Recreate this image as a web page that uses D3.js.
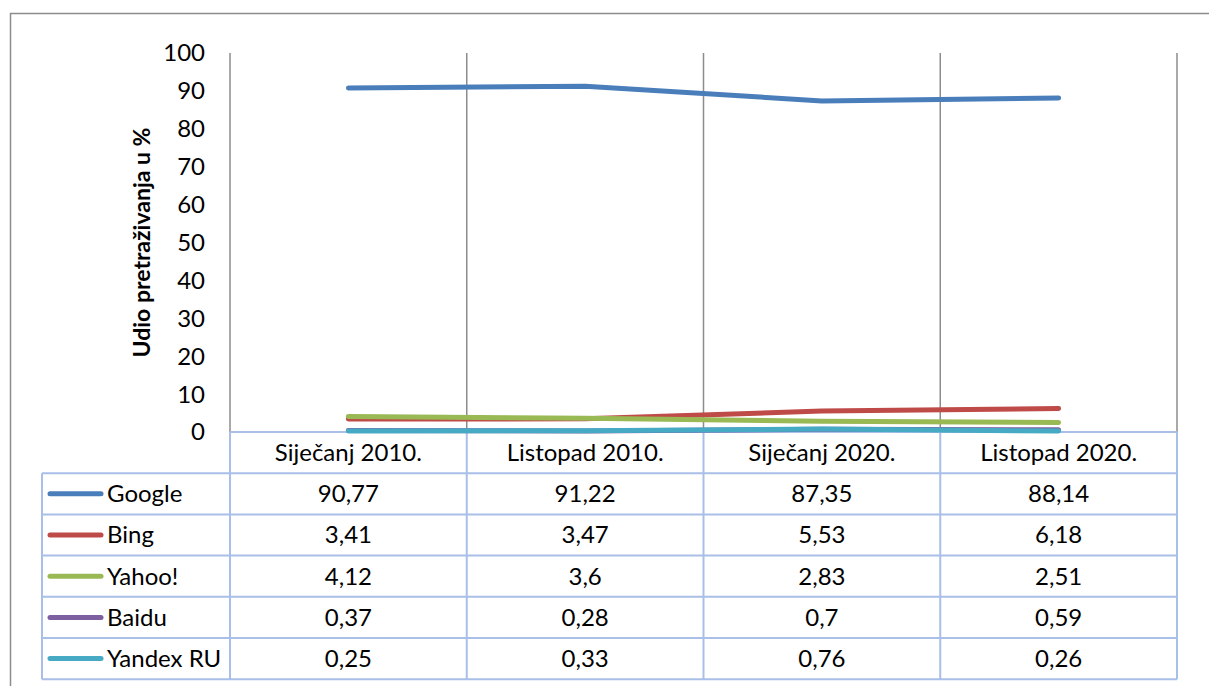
<!DOCTYPE html>
<html>
<head>
<meta charset="utf-8">
<script src="https://cdn.jsdelivr.net/npm/d3@7"></script>
<style>
  body { margin: 0; background: #fff; }
  text { font-family: Lato, "Open Sans", sans-serif; fill: #000; }
</style>
</head>
<body>
<div id="chart"></div>
<script>
var categories = ["Siječanj 2010.", "Listopad 2010.", "Siječanj 2020.", "Listopad 2020."];
var seriesNames = ["Google", "Bing", "Yahoo!", "Baidu", "Yandex RU"];
var google = [90.77, 91.22, 87.35, 88.14];
var bing = [3.41, 3.47, 5.53, 6.18];
var yahoo = [4.12, 3.6, 2.83, 2.51];
var baidu = [0.37, 0.28, 0.7, 0.59];
var yandex = [0.25, 0.33, 0.76, 0.26];
var colors = ["#4a7ebb", "#be4b48", "#98b954", "#7d60a0", "#46aac5"];
var yTicks = [0, 10, 20, 30, 40, 50, 60, 70, 80, 90, 100];
var yTitle = "Udio pretraživanja u %";

var series = [google, bing, yahoo, baidu, yandex];

var W = 1209, H = 686;
var plot = { left: 230, right: 1177, top: 53, bottom: 432 };
var tableLeft = 42, rowH = 41.2;
var fs = "24px";

var svg = d3.select("#chart").append("svg")
    .attr("width", W)
    .attr("height", H);

// outer chart border
svg.append("rect")
    .attr("x", 10.5).attr("y", 13.5)
    .attr("width", W + 10).attr("height", H + 10)
    .attr("fill", "none")
    .attr("stroke", "#8c8c8c")
    .attr("stroke-width", 1.5);

var x = d3.scaleBand()
    .domain(categories)
    .range([plot.left, plot.right]);

var y = d3.scaleLinear()
    .domain([0, 100])
    .range([plot.bottom, plot.top]);

// vertical gridlines at category boundaries
var bounds = categories.map(function (d) { return x(d); }).concat([plot.right]);
svg.selectAll(".grid")
    .data(bounds)
    .enter().append("line")
    .attr("class", "grid")
    .attr("x1", function (d) { return d; })
    .attr("x2", function (d) { return d; })
    .attr("y1", plot.top)
    .attr("y2", plot.bottom)
    .attr("stroke", "#8c8c8c")
    .attr("stroke-width", 1.5);

// y axis tick labels
svg.selectAll(".ytick")
    .data(yTicks)
    .enter().append("text")
    .attr("class", "ytick")
    .attr("x", 205)
    .attr("y", function (d) { return y(d); })
    .attr("dy", "0.35em")
    .attr("text-anchor", "end")
    .style("font-size", fs)
    .text(function (d) { return d; });

// y title
svg.append("text")
    .attr("transform", "translate(150," + ((plot.top + plot.bottom) / 2) + ") rotate(-90)")
    .attr("text-anchor", "middle")
    .style("font-size", "23px")
    .style("font-weight", "bold")
    .text(yTitle);

// data table
var tableColor = "#a9bfe8";
var fmt = function (v) { return String(v).replace(".", ","); };
var tableTop = plot.bottom;
var rows = series.length;
var tableBottom = tableTop + rowH * (rows + 1);

var tg = svg.append("g").attr("class", "table");

tg.append("line")
    .attr("x1", plot.left).attr("x2", plot.right)
    .attr("y1", tableTop).attr("y2", tableTop)
    .attr("stroke", tableColor).attr("stroke-width", 2);

// horizontal row lines
d3.range(rows + 1).forEach(function (r) {
    var yy = tableTop + rowH * (r + 1);
    tg.append("line")
        .attr("x1", tableLeft).attr("x2", plot.right)
        .attr("y1", yy).attr("y2", yy)
        .attr("stroke", tableColor).attr("stroke-width", 2);
});

// vertical lines
bounds.forEach(function (bx) {
    tg.append("line")
        .attr("x1", bx).attr("x2", bx)
        .attr("y1", tableTop).attr("y2", tableBottom)
        .attr("stroke", tableColor).attr("stroke-width", 2);
});
tg.append("line")
    .attr("x1", tableLeft).attr("x2", tableLeft)
    .attr("y1", tableTop + rowH).attr("y2", tableBottom)
    .attr("stroke", tableColor).attr("stroke-width", 2);

// header labels
tg.selectAll(".cat")
    .data(categories)
    .enter().append("text")
    .attr("class", "cat")
    .attr("x", function (d) { return x(d) + x.bandwidth() / 2; })
    .attr("y", tableTop + rowH / 2)
    .attr("dy", "0.35em")
    .attr("text-anchor", "middle")
    .style("font-size", fs)
    .text(function (d) { return d; });

// legend keys and values
series.forEach(function (s, r) {
    var cy = tableTop + rowH * (r + 1) + rowH / 2;
    tg.append("line")
        .attr("x1", 50).attr("x2", 101)
        .attr("y1", cy).attr("y2", cy)
        .attr("stroke", colors[r])
        .attr("stroke-width", 5)
        .attr("stroke-linecap", "round");
    tg.append("text")
        .attr("x", 107)
        .attr("y", cy)
        .attr("dy", "0.35em")
        .style("font-size", fs)
        .text(seriesNames[r]);
    tg.selectAll(".val" + r)
        .data(s)
        .enter().append("text")
        .attr("x", function (d, i) { return x(categories[i]) + x.bandwidth() / 2; })
        .attr("y", cy)
        .attr("dy", "0.35em")
        .attr("text-anchor", "middle")
        .style("font-size", fs)
        .text(function (d) { return fmt(d); });
});

// lines, drawn after the table so they sit over its top border
var line = d3.line()
    .x(function (d, i) { return x(categories[i]) + x.bandwidth() / 2; })
    .y(function (d) { return y(d); });

svg.selectAll(".series")
    .data(series.map(function (s, i) { return { values: s, color: colors[i] }; }))
    .enter().append("path")
    .attr("class", "series")
    .attr("d", function (d) { return line(d.values); })
    .attr("fill", "none")
    .attr("stroke", function (d) { return d.color; })
    .attr("stroke-width", 5)
    .attr("stroke-linecap", "round")
    .attr("stroke-linejoin", "round");
</script>
</body>
</html>
